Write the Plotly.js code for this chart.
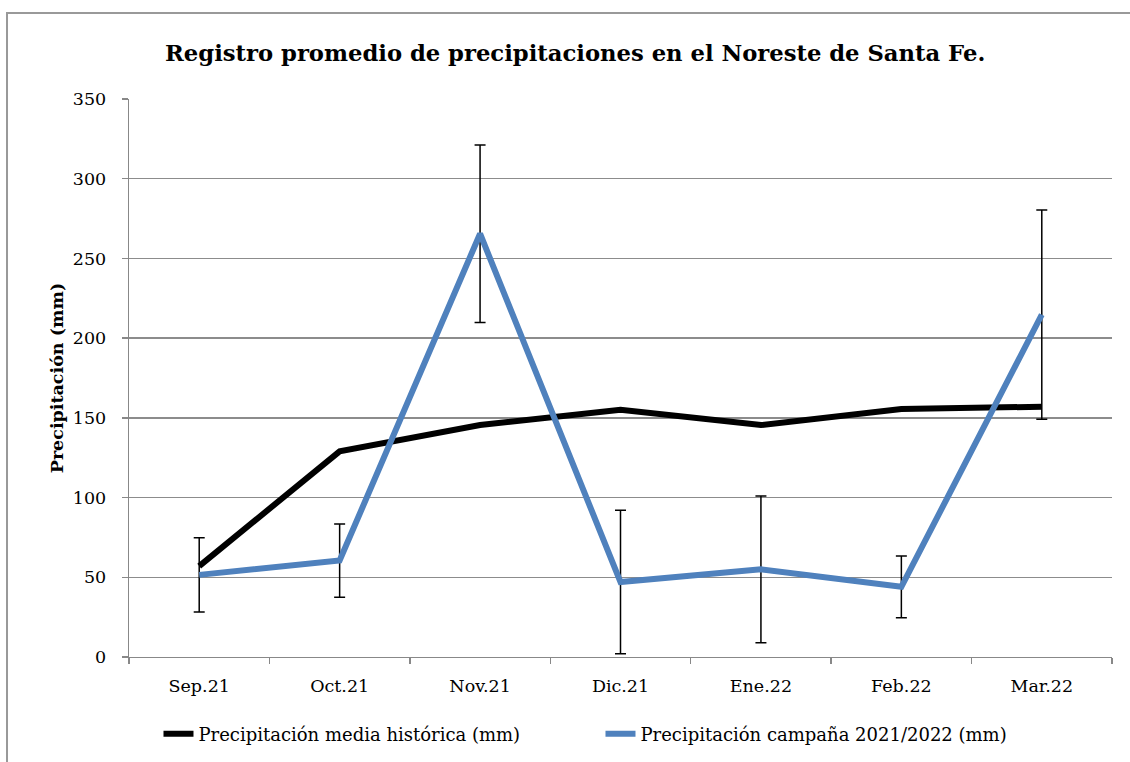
<!DOCTYPE html>
<html>
<head>
<meta charset="utf-8">
<script src="https://cdn.plot.ly/plotly-3.0.1.min.js"></script>
<style>
html,body{margin:0;padding:0;background:#fff;}
#chart{width:1130px;height:762px;}
</style>
</head>
<body>
<div id="chart"></div>
<script>
const months = ["Sep.21","Oct.21","Nov.21","Dic.21","Ene.22","Feb.22","Mar.22"];
const historica = [57, 129, 145.5, 155, 145.5, 155.5, 157];
const campana = [51.5, 60.5, 265.5, 47, 55, 44, 214.7];
const campanaError = [23.3, 23, 55.7, 45, 46, 19.4, 65.6];

const serif = "DejaVu Serif, Liberation Serif, serif";

const traces = [
  {
    x: months, y: historica, type: "scatter", mode: "lines",
    name: "Precipitación media histórica (mm)",
    line: {color: "#000000", width: 6}
  },
  {
    x: months, y: campana, type: "scatter", mode: "markers",
    showlegend: false, hoverinfo: "skip",
    marker: {size: 1, color: "rgba(0,0,0,0)"},
    error_y: {type: "data", array: campanaError, visible: true, color: "#000000", thickness: 1.5, width: 5.5}
  },
  {
    x: months, y: campana, type: "scatter", mode: "lines",
    name: "Precipitación campaña 2021/2022 (mm)",
    line: {color: "#4f81bd", width: 6}
  }
];

const layout = {
  width: 1130, height: 762,
  margin: {l: 129, r: 18, t: 99, b: 105},
  paper_bgcolor: "#ffffff", plot_bgcolor: "#ffffff",
  font: {family: serif, color: "#000000", size: 17},
  title: {
    text: "<b>Registro promedio de precipitaciones en el Noreste de Santa Fe.</b>",
    font: {family: serif, size: 22.7, color: "#000000"},
    xref: "container", x: 0.509, xanchor: "center",
    yref: "container", y: 0.930, yanchor: "middle"
  },
  xaxis: {
    type: "category",
    automargin: false,
    tickson: "boundaries",
    ticks: "outside", ticklen: 6, tickcolor: "#888888", tickwidth: 1.3,
    showline: true, linecolor: "#888888", linewidth: 1.3,
    showgrid: false, zeroline: false,
    ticklabelstandoff: 13,
    tickfont: {family: serif, size: 17.5, color: "#000000"},
    range: [-0.5, 6.5]
  },
  yaxis: {
    range: [0, 350], dtick: 50,
    automargin: false,
    ticks: "outside", ticklen: 6, tickcolor: "#888888", tickwidth: 1.3,
    showline: true, linecolor: "#888888", linewidth: 1.3,
    showgrid: true, gridcolor: "#8c8c8c", gridwidth: 1.3,
    zeroline: false,
    ticklabelstandoff: 12,
    tickfont: {family: serif, size: 17.5, color: "#000000"},
    title: {text: "<b>Precipitación (mm)</b>", font: {family: serif, size: 17.5, color: "#000000"}, standoff: 4}
  },
  showlegend: true,
  legend: {
    orientation: "h",
    x: 0.03, xanchor: "left",
    yref: "container",
    y: 0.0367, yanchor: "middle",
    font: {family: serif, size: 18, color: "#000000"},
    entrywidth: 397, entrywidthmode: "pixels",
    bgcolor: "rgba(0,0,0,0)"
  },
  shapes: [{
    type: "rect", xref: "paper", yref: "paper",
    x0: -0.1241, x1: 1.03, y0: -0.21, y1: 1.154,
    line: {color: "#999999", width: 2}, layer: "below"
  }]
};

Plotly.newPlot("chart", traces, layout, {displayModeBar: false, staticPlot: true});
</script>
</body>
</html>
